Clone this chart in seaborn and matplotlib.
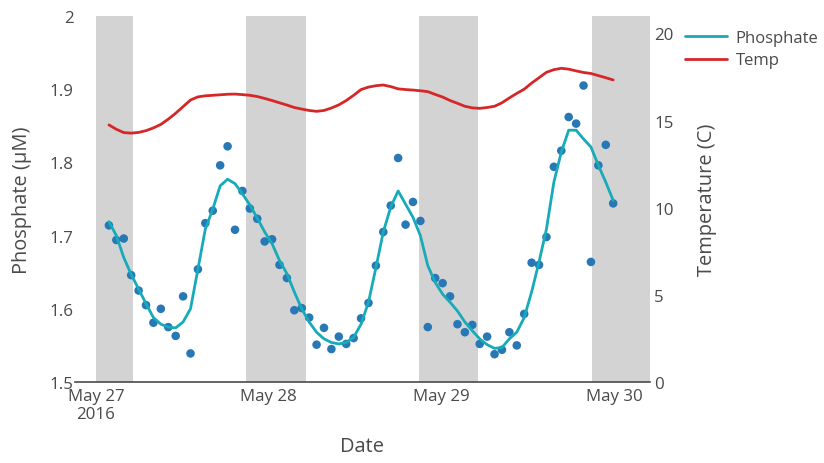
import matplotlib
matplotlib.use("Agg")
import matplotlib.pyplot as plt
import seaborn as sns
import pandas as pd
from matplotlib.lines import Line2D

# ---------------- data ----------------
t_start = "2016-05-27 01:48"
t_end = "2016-05-29 23:53"
n_obs = 69

phosphate_obs = [
    1.714, 1.694, 1.696, 1.646, 1.625, 1.605, 1.581, 1.600, 1.575, 1.563,
    1.617, 1.539, 1.654, 1.717, 1.734, 1.796, 1.822, 1.708, 1.761, 1.737,
    1.723, 1.692, 1.695, 1.660, 1.642, 1.598, 1.601, 1.588, 1.551, 1.574,
    1.545, 1.562, 1.552, 1.560, 1.587, 1.608, 1.659, 1.705, 1.741, 1.806,
    1.715, 1.746, 1.720, 1.575, 1.642, 1.635, 1.617, 1.579, 1.568, 1.578,
    1.552, 1.562, 1.538, 1.544, 1.568, 1.550, 1.593, 1.663, 1.660, 1.698,
    1.794, 1.816, 1.862, 1.853, 1.905, 1.664, 1.796, 1.824, 1.744,
]

phosphate_smooth = [
    1.719, 1.700, 1.670, 1.647, 1.627, 1.607, 1.588, 1.579, 1.575, 1.574,
    1.582, 1.600, 1.654, 1.709, 1.736, 1.768, 1.777, 1.771, 1.757, 1.742,
    1.724, 1.705, 1.689, 1.666, 1.648, 1.623, 1.600, 1.582, 1.568, 1.559,
    1.554, 1.552, 1.554, 1.561, 1.579, 1.609, 1.656, 1.705, 1.739, 1.761,
    1.743, 1.725, 1.700, 1.659, 1.636, 1.620, 1.609, 1.597, 1.582, 1.570,
    1.559, 1.551, 1.546, 1.547, 1.559, 1.568, 1.588, 1.623, 1.664, 1.709,
    1.773, 1.814, 1.844, 1.844, 1.832, 1.821, 1.796, 1.773, 1.748,
]

temperature = [
    14.75, 14.50, 14.31, 14.28, 14.32, 14.42, 14.58, 14.78, 15.08, 15.42,
    15.80, 16.18, 16.36, 16.42, 16.45, 16.48, 16.51, 16.52, 16.49, 16.45,
    16.38, 16.27, 16.15, 16.02, 15.89, 15.75, 15.66, 15.58, 15.53, 15.58,
    15.72, 15.90, 16.15, 16.45, 16.78, 16.92, 17.00, 17.04, 16.95, 16.82,
    16.78, 16.75, 16.71, 16.66, 16.50, 16.35, 16.15, 15.99, 15.82, 15.73,
    15.70, 15.75, 15.82, 16.02, 16.30, 16.56, 16.80, 17.15, 17.46, 17.77,
    17.92, 18.00, 17.95, 17.85, 17.76, 17.70, 17.58, 17.46, 17.33,
]

night_starts = ["2016-05-27 00:00", "2016-05-27 20:50", "2016-05-28 20:55", "2016-05-29 20:55"]
night_ends = ["2016-05-27 05:10", "2016-05-28 05:10", "2016-05-29 05:05", "2016-05-30 05:00"]

x_range = ["2016-05-26 21:05", "2016-05-30 05:00"]
x_ticks = ["2016-05-27", "2016-05-28", "2016-05-29", "2016-05-30"]
x_tick_labels = ["May 27\n2016", "May 28", "May 29", "May 30"]
left_ticks = [1.5, 1.6, 1.7, 1.8, 1.9, 2.0]
left_tick_labels = ["1.5", "1.6", "1.7", "1.8", "1.9", "2"]
right_ticks = [0, 5, 10, 15, 20]
series_names = ["Phosphate", "Temp"]

# ---------------- build frame ----------------
times = pd.date_range(t_start, t_end, periods=n_obs)
df = pd.DataFrame({
    "Date": times,
    "obs": phosphate_obs,
    "smooth": phosphate_smooth,
    "temp": temperature,
})

sns.set_theme(style="white")
plt.rcParams["font.family"] = ["Open Sans", "DejaVu Sans"]

TXT = "#4a4a4a"
TEAL = "#17aab8"
RED = "#d62728"
fig = plt.figure(figsize=(8.24, 4.64), dpi=100)
ax2 = fig.add_axes([75 / 824, 1 - 383 / 464, (650 - 75) / 824, (383 - 17) / 464])
ax = ax2.twinx()  # phosphate axis drawn on top
ax.yaxis.tick_left()
ax.yaxis.set_label_position("left")
ax2.yaxis.tick_right()
ax2.yaxis.set_label_position("right")

for s, e in zip(night_starts, night_ends):
    ax2.axvspan(pd.Timestamp(s), pd.Timestamp(e), color="#d3d3d3", lw=0, zorder=0)

sns.lineplot(data=df, x="Date", y="temp", ax=ax2, color=RED, lw=2,
             zorder=4, legend=False)
sns.scatterplot(data=df, x="Date", y="obs", ax=ax, color="#2878b5", s=38,
                edgecolor="none", zorder=3, legend=False)
sns.lineplot(data=df, x="Date", y="smooth", ax=ax, color=TEAL, lw=2,
             zorder=4, legend=False)

ax2.set_xlim(pd.Timestamp(x_range[0]), pd.Timestamp(x_range[1]))
ax.set_ylim(1.5, 2.0)
ax2.set_ylim(0, 21)

ax2.set_xticks([pd.Timestamp(t) for t in x_ticks])
ax2.set_xticklabels(x_tick_labels)
ax.set_yticks(left_ticks)
ax.set_yticklabels(left_tick_labels)
ax2.set_yticks(right_ticks)

for a in (ax, ax2):
    for sp in a.spines.values():
        sp.set_visible(False)
    a.tick_params(length=0, colors=TXT, labelsize=12.2)
    a.grid(False)
ax2.spines["bottom"].set_visible(True)
ax2.spines["bottom"].set_color(TXT)
ax2.spines["bottom"].set_linewidth(1.2)
ax2.tick_params(axis="x", pad=4)
ax.tick_params(axis="y", pad=1)
ax2.tick_params(axis="y", pad=3)

ax2.set_xlabel("Date", color=TXT, fontsize=14.4, labelpad=10)
ax.set_ylabel("Phosphate (µM)", color=TXT, fontsize=14.4, labelpad=13)
ax2.set_ylabel("Temperature (C)", color=TXT, fontsize=14.4, labelpad=17)

handles = [Line2D([], [], color=TEAL, lw=2), Line2D([], [], color=RED, lw=2)]
fig.legend(handles, series_names, loc="upper left",
           bbox_to_anchor=(685 / 824, 1 - 31 / 464), frameon=False,
           fontsize=12, handlelength=2.5, handletextpad=0.55,
           labelspacing=0.38, labelcolor=TXT, borderaxespad=0, borderpad=0)

fig.savefig("out.png", dpi=100)
